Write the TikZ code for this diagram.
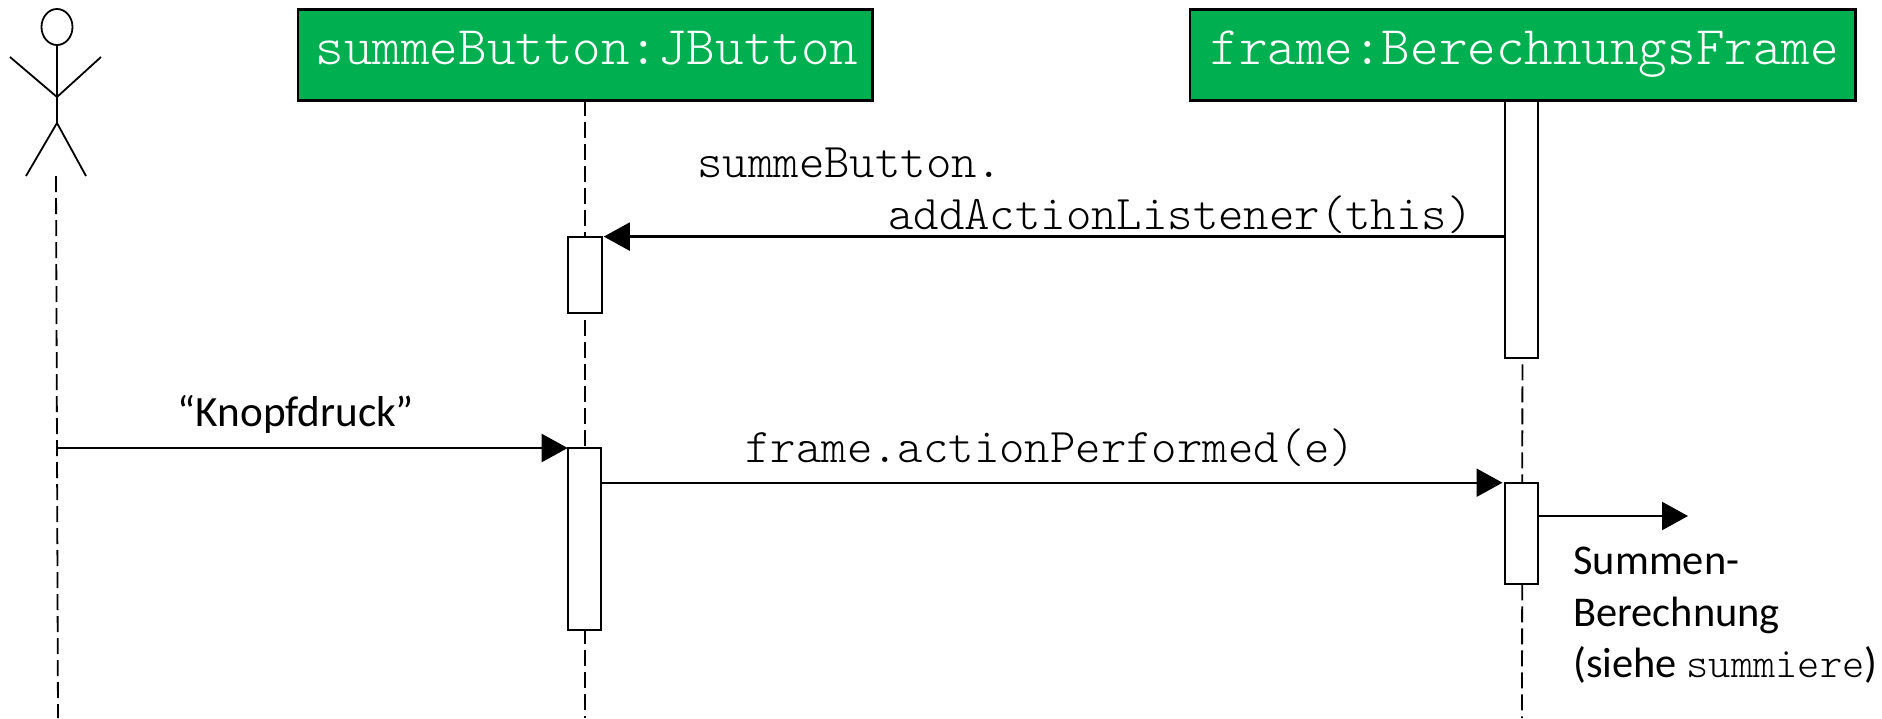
\documentclass[tikz,border=0pt]{standalone}
\usepackage{fontspec}
\setmainfont{Carlito}
\usetikzlibrary{arrows.meta,shapes.geometric}
\definecolor{objgreen}{HTML}{00B050}
\tikzset{>={Triangle[length=13pt,width=14pt]},thick/.style={line width=1.15pt},
  obj/.style={draw,line width=1.3pt,fill=objgreen,text=white,minimum height=45.35pt,outer sep=0pt,inner sep=0pt,
    font=\fontsize{27.2}{30}\ttfamily\fontseries{l}\selectfont,text height=16pt,text depth=7pt},
  bar/.style={draw,line width=1pt,fill=white,minimum width=16.8pt,outer sep=0pt,inner sep=0pt},
  lifeline/.style={line width=.9pt,dash pattern=on 8pt off 3pt},
  limb/.style={line width=.9pt},
  msg/.style={font=\fontsize{24.2}{28}\ttfamily\fontseries{l}\selectfont,inner sep=0pt},
  note/.style={font=\fontsize{21.2}{25.6}\selectfont,inner sep=0pt}}

\begin{document}
\begin{tikzpicture}[x=.5pt,y=-.5pt]
              \useasboundingbox (0,0) rectangle (1882,718);

              \node[ellipse,draw,limb,minimum width=15.5pt,minimum height=18pt,inner sep=0pt,outer sep=0pt] (head) at (57,27) {};
              \coordinate (hip) at (57,123);
              \coordinate (waist) at (57,97);
              \coordinate (handl) at (10,57);
              \coordinate (handr) at (101,57);
              \coordinate (footl) at (26,176);
              \coordinate (footr) at (86,176);
              \coordinate (actortop) at (56,176);
              \coordinate (actorend) at (58,718);

              \node[obj,minimum width=287.2pt,text width=287.2pt,align=center] (button) at (585,55) {\hspace*{2pt}summeButton:JButton};
              \node[obj,minimum width=332.7pt,text width=332.7pt,align=center] (frame) at (1522.7,55) {\hspace*{2pt}frame:BerechnungsFrame};

              \coordinate (buttonend) at (585,718);
              \coordinate (frameend) at (1522,718);

              \draw[limb] (head.south) -- (hip) -- (footl)
                          (hip) -- (footr)
                          (handl) -- (waist) -- (handr);
              \draw[lifeline] (actortop) -- (actorend);
              \draw[lifeline] (button.south) -- (buttonend);
              \draw[lifeline] (frame.south) -- (frameend);

              \node[bar,minimum height=38pt] (listen) at (585,274.6) {};
              \node[bar,minimum height=128.5pt] (framebar) at (1521.3,229.2) {};
              \node[bar,minimum height=91pt] (press) at (584.5,539) {};
              \node[bar,minimum height=50.6pt] (perform) at (1521.3,533.3) {};

              \coordinate (callstart) at (framebar.west |- listen.north);
              \coordinate (callend) at (listen.north east);
              \coordinate (pressstart) at (actorend |- press.north);
              \coordinate (performstart) at (press.east |- perform.north);
              \coordinate (sumstart) at (perform.east |- 0,516);
              \coordinate (sumend) at (1688,516);

              \path[thick]
              (callstart) edge [->,shorten >=1pt] (callend)
              (pressstart) edge [->] (press.north west)
              (performstart) edge [->,shorten >=1pt] (perform.north west)
              (sumstart) edge [->] (sumend)
              ;

              \node[msg,anchor=base west] (calla) at (697,177) {summeButton.};
              \node[msg,anchor=base east] (callb) at (1473,229) {addActionListener(this)};
              \node[msg,anchor=base west] (callc) at (745,462) {frame.actionPerformed(e)};
              \node[note,font=\fontsize{21.6}{26}\selectfont,anchor=base] (knopf) at (296,426) {“Knopfdruck”};
              \node[note,align=left,anchor=north west] (sum) at (1573,547) {Summen-\\Berechnung\\(siehe {\fontsize{21.2}{25.6}\ttfamily\fontseries{l}\selectfont summiere})};
\end{tikzpicture}
\end{document}
